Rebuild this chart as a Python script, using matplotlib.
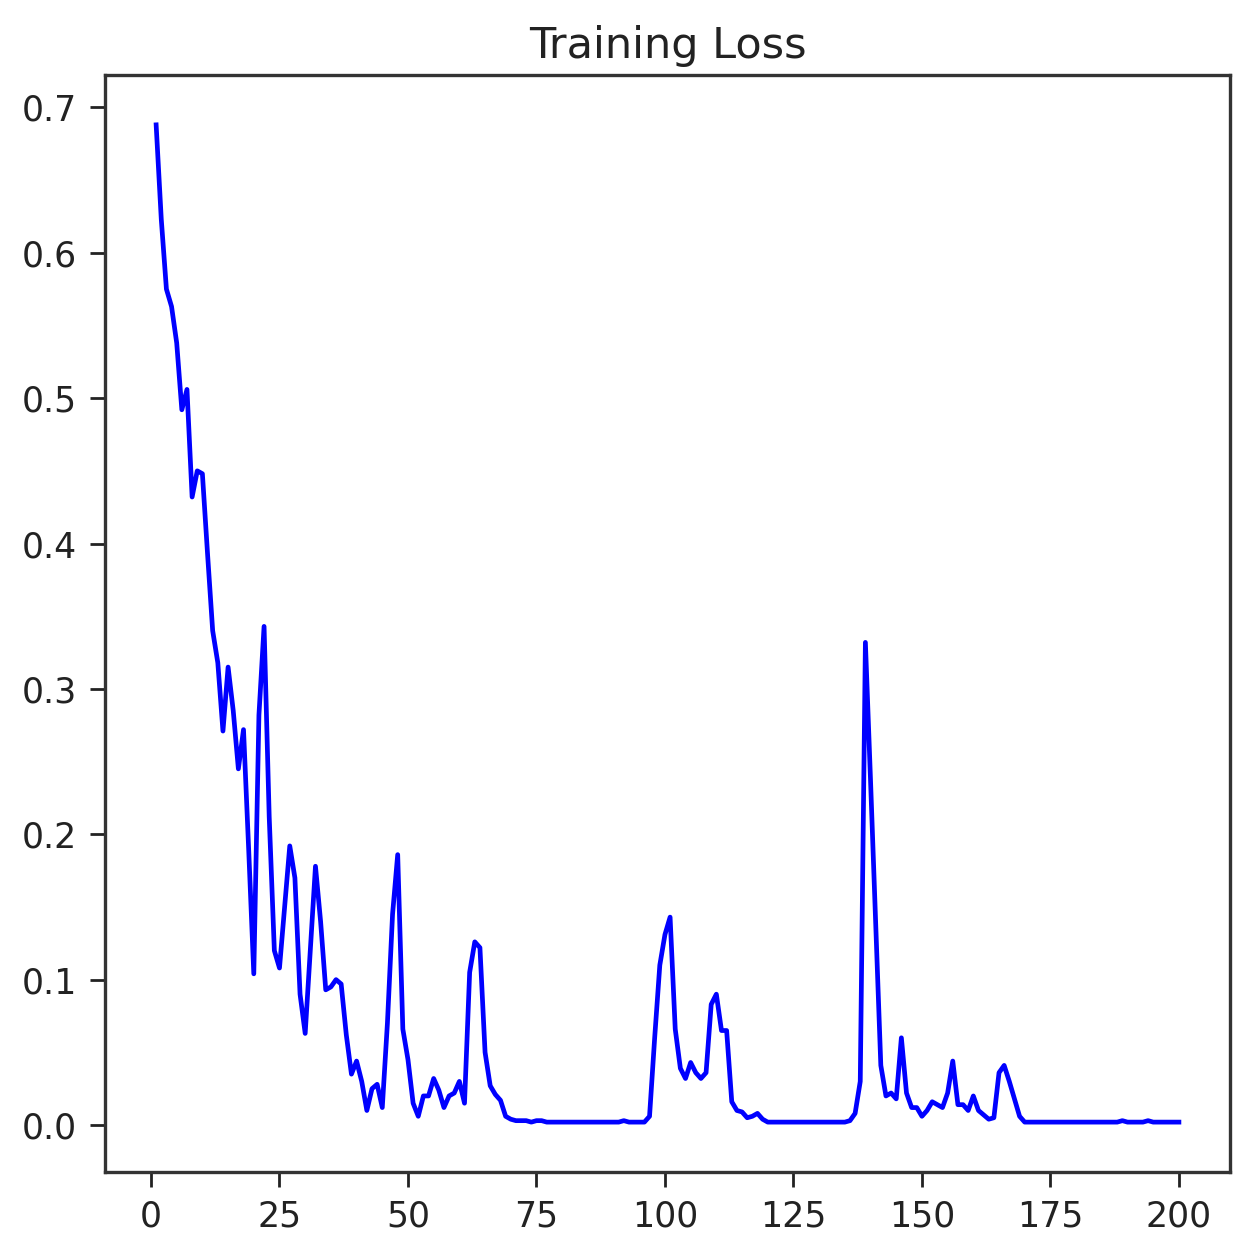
import matplotlib
matplotlib.use('Agg')
import matplotlib.pyplot as plt

# training loss per epoch
epochs = list(range(1, 201))

loss_1_20 = [0.688, 0.623, 0.575, 0.563, 0.538, 0.492, 0.506, 0.432, 0.450, 0.448,
             0.393, 0.340, 0.318, 0.271, 0.315, 0.285, 0.245, 0.272, 0.190, 0.104]
loss_21_40 = [0.282, 0.343, 0.212, 0.120, 0.108, 0.150, 0.192, 0.170, 0.090, 0.063,
              0.120, 0.178, 0.140, 0.093, 0.095, 0.100, 0.097, 0.062, 0.035, 0.044]
loss_41_60 = [0.030, 0.010, 0.025, 0.028, 0.012, 0.070, 0.145, 0.186, 0.066, 0.045,
              0.015, 0.006, 0.020, 0.020, 0.032, 0.024, 0.012, 0.020, 0.022, 0.030]
loss_61_80 = [0.015, 0.105, 0.126, 0.122, 0.050, 0.027, 0.021, 0.017, 0.006, 0.004,
              0.003, 0.003, 0.003, 0.002, 0.003, 0.003, 0.002, 0.002, 0.002, 0.002]
loss_81_100 = [0.002, 0.002, 0.002, 0.002, 0.002, 0.002, 0.002, 0.002, 0.002, 0.002,
               0.002, 0.003, 0.002, 0.002, 0.002, 0.002, 0.006, 0.060, 0.110, 0.131]
loss_101_120 = [0.143, 0.066, 0.039, 0.032, 0.043, 0.036, 0.032, 0.036, 0.083, 0.090,
                0.065, 0.065, 0.016, 0.010, 0.009, 0.005, 0.006, 0.008, 0.004, 0.002]
loss_121_140 = [0.002, 0.002, 0.002, 0.002, 0.002, 0.002, 0.002, 0.002, 0.002, 0.002,
                0.002, 0.002, 0.002, 0.002, 0.002, 0.003, 0.008, 0.030, 0.332, 0.237]
loss_141_160 = [0.139, 0.041, 0.020, 0.022, 0.018, 0.060, 0.022, 0.012, 0.012, 0.006,
                0.010, 0.016, 0.014, 0.012, 0.022, 0.044, 0.014, 0.014, 0.010, 0.020]
loss_161_180 = [0.010, 0.007, 0.004, 0.005, 0.036, 0.041, 0.030, 0.018, 0.006, 0.002,
                0.002, 0.002, 0.002, 0.002, 0.002, 0.002, 0.002, 0.002, 0.002, 0.002]
loss_181_200 = [0.002, 0.002, 0.002, 0.002, 0.002, 0.002, 0.002, 0.002, 0.003, 0.002,
                0.002, 0.002, 0.002, 0.003, 0.002, 0.002, 0.002, 0.002, 0.002, 0.002]

loss = (loss_1_20 + loss_21_40 + loss_41_60 + loss_61_80 + loss_81_100 +
        loss_101_120 + loss_121_140 + loss_141_160 + loss_161_180 + loss_181_200)

fig = plt.figure(figsize=(12.59, 12.56), dpi=100)
ax = fig.add_axes([0.0834, 0.0669, 0.8936, 0.8734])

ax.plot(epochs, loss, color='#0000ff', linewidth=3.4)
ax.set_title('Training Loss', fontsize=31, pad=12, color='#222222')

ax.set_xticks([0, 25, 50, 75, 100, 125, 150, 175, 200])
ax.set_yticks([0.0, 0.1, 0.2, 0.3, 0.4, 0.5, 0.6, 0.7])
ax.tick_params(labelsize=25, length=11, width=2, pad=9, colors='#222222')
for sp in ax.spines.values():
    sp.set_linewidth(2.4)
    sp.set_color('#333333')

plt.savefig('out.png', dpi=100)
